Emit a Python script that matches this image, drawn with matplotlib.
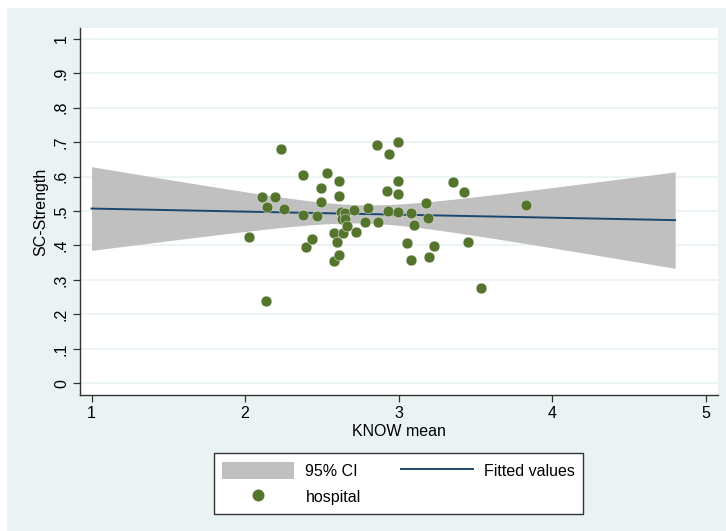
import numpy as np
import matplotlib
matplotlib.use("Agg")
import matplotlib.pyplot as plt
from matplotlib.patches import Rectangle, Patch
from matplotlib.lines import Line2D

plt.rcParams['font.family'] = ['Liberation Sans', 'DejaVu Sans']

# data: KNOW mean (x) and SC-Strength (y) per hospital
know_mean = [2.025, 2.108, 2.136, 2.141, 2.195, 2.232, 2.253, 2.379, 2.379, 2.396,
             2.437, 2.466, 2.494, 2.494, 2.531, 2.579, 2.579, 2.596, 2.612, 2.613,
             2.613, 2.625, 2.629, 2.639, 2.650, 2.650, 2.661, 2.711, 2.720, 2.781,
             2.798, 2.861, 2.867, 2.924, 2.930, 2.939, 2.995, 2.995, 2.995, 2.995,
             3.052, 3.078, 3.080, 3.101, 3.178, 3.193, 3.197, 3.230, 3.355, 3.425,
             3.453, 3.534, 3.831]
sc_strength = [0.424, 0.542, 0.238, 0.511, 0.542, 0.680, 0.506, 0.605, 0.488, 0.395,
               0.418, 0.485, 0.568, 0.527, 0.611, 0.437, 0.355, 0.411, 0.373, 0.588,
               0.544, 0.498, 0.476, 0.437, 0.493, 0.476, 0.455, 0.503, 0.440, 0.468,
               0.508, 0.691, 0.469, 0.559, 0.500, 0.664, 0.701, 0.588, 0.549, 0.497,
               0.408, 0.494, 0.358, 0.459, 0.522, 0.480, 0.366, 0.399, 0.583, 0.555,
               0.410, 0.276, 0.517]
fit_range = [1.0, 4.8]
x_ticks = [1, 2, 3, 4, 5]
y_ticks = [0, 0.1, 0.2, 0.3, 0.4, 0.5, 0.6, 0.7, 0.8, 0.9, 1.0]
y_ticklabels = ["0", ".1", ".2", ".3", ".4", ".5", ".6", ".7", ".8", ".9", "1"]
t_crit = 2.0076  # t(0.975, n-2)

x = np.array(know_mean)
y = np.array(sc_strength)
n = len(x)
xm = x.mean()
sxx = ((x - xm) ** 2).sum()
b = ((x - xm) * (y - y.mean())).sum() / sxx
a = y.mean() - b * xm
resid = y - (a + b * x)
s = np.sqrt((resid ** 2).sum() / (n - 2))
xg = np.linspace(fit_range[0], fit_range[1], 200)
yg = a + b * xg
se = s * np.sqrt(1.0 / n + (xg - xm) ** 2 / sxx)
lo = yg - t_crit * se
hi = yg + t_crit * se

W, H = 726, 531
fig = plt.figure(figsize=(W / 100, H / 100), dpi=100, facecolor='white')
fig.patches.append(Rectangle((7 / W, 0), 1, 1 - 8 / H, transform=fig.transFigure,
                             facecolor='#EAF2F3', edgecolor='none', zorder=-10))

ax = fig.add_axes([80 / W, 1 - 395 / H, (718 - 80) / W, (395 - 28) / H])
ax.set_facecolor('white')

ci_color = '#C0C0C0'
line_color = '#1A476F'
mark_color = '#55752F'

ax.fill_between(xg, lo, hi, color=ci_color, linewidth=0, zorder=2)
ax.plot(xg, yg, color=line_color, lw=1.4, zorder=3)
ax.plot(x, y, 'o', color=mark_color, ms=7.8, mec='white', mew=0.3, zorder=4)

ax.set_xlim(0.925, 5.079)
ax.set_ylim(-0.034, 1.031)
ax.set_xticks(x_ticks)
ax.set_xticklabels([str(v) for v in x_ticks])
ax.set_yticks(y_ticks)
ax.set_yticklabels(y_ticklabels, rotation=90, va='center')
ax.grid(axis='y', color='#EAF2F3', lw=1.2, zorder=0)
ax.set_axisbelow(True)
for sp in ['top', 'right']:
    ax.spines[sp].set_visible(False)
for sp in ['left', 'bottom']:
    ax.spines[sp].set_color('#333333')
    ax.spines[sp].set_linewidth(1.0)
ax.tick_params(axis='both', direction='out', length=5, width=0.9, color='#333333',
               labelsize=11.5, labelcolor='black', pad=3)
ax.set_xlabel('KNOW mean', fontsize=11.5, labelpad=2)
ax.set_ylabel('SC-Strength', fontsize=11.5, labelpad=4)

handles = [Patch(facecolor=ci_color, edgecolor='none'),
           Line2D([], [], ls='none', marker='o', color=mark_color, ms=7.6),
           Line2D([], [], color=line_color, lw=1.4)]
labels = ['95% CI', 'hospital', 'Fitted values']
leg = fig.legend(handles, labels, ncol=2, loc='center',
                 bbox_to_anchor=(398.5 / W, 1 - 483.5 / H), fontsize=11.5,
                 frameon=True, fancybox=False, edgecolor='#333333', framealpha=1,
                 handlelength=4.5, handleheight=1.25, handletextpad=0.7,
                 columnspacing=2.5, labelspacing=0.6, borderpad=0.55)
leg.get_frame().set_linewidth(1.0)

fig.savefig('out.png', dpi=100, facecolor=fig.get_facecolor())
